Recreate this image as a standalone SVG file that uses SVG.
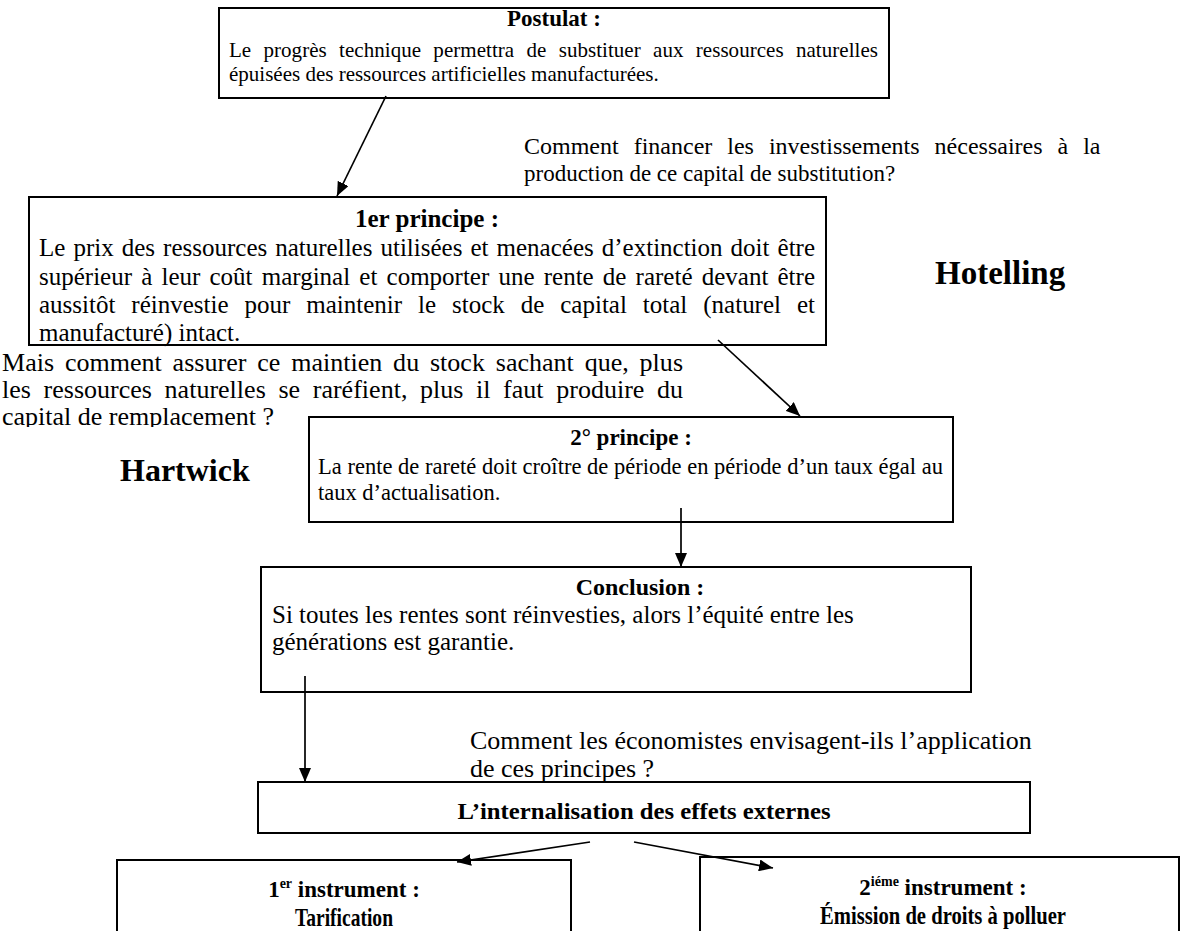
<svg xmlns="http://www.w3.org/2000/svg" width="1181" height="931" viewBox="0 0 1181 931">
<defs>
<style>
text{font-family:"Liberation Serif","Times New Roman",serif;fill:#000}
.b{font-weight:bold}
.box{fill:#fff;stroke:#000;stroke-width:2}
.ln{stroke:#000;stroke-width:1.7;fill:none}
</style>
<marker id="ah" viewBox="0 0 14 12" refX="14" refY="6" markerWidth="14" markerHeight="12" markerUnits="userSpaceOnUse" orient="auto">
<path d="M0,0 L14,6 L0,12 z" fill="#000"/>
</marker>
<clipPath id="clipMais"><rect x="0" y="400" width="320" height="27"/></clipPath>
</defs>
<rect width="1181" height="931" fill="#fff"/>

<g id="postulat">
<rect class="box" x="219" y="8" width="670" height="90"/>
<text class="b" x="554" y="26" font-size="23" text-anchor="middle">Postulat :</text>
<text x="229" y="57" font-size="21" word-spacing="7" textLength="649" lengthAdjust="spacing">Le progrès technique permettra de substituer aux ressources naturelles</text>
<text x="229" y="81" font-size="21">épuisées des ressources artificielles manufacturées.</text>
</g>

<g id="question1">
<text x="524" y="154" font-size="24" word-spacing="9">Comment financer les investissements nécessaires à la</text>
<text x="524" y="181" font-size="23">production de ce capital de substitution?</text>
</g>

<g id="principe1">
<rect class="box" x="29" y="197" width="797" height="148"/>
<text class="b" x="427" y="227" font-size="25" text-anchor="middle">1er principe :</text>
<text x="39" y="256" font-size="25" word-spacing="1.8" textLength="776" lengthAdjust="spacing">Le prix des ressources naturelles utilisées et menacées d’extinction doit être</text>
<text x="39" y="285" font-size="25" word-spacing="2.9" textLength="776" lengthAdjust="spacing">supérieur à leur coût marginal et comporter une rente de rareté devant être</text>
<text x="39" y="313" font-size="25" word-spacing="9.7" textLength="776" lengthAdjust="spacing">aussitôt réinvestie pour maintenir le stock de capital total (naturel et</text>
<text x="39" y="341" font-size="25">manufacturé) intact.</text>
</g>

<g id="hotelling">
<text class="b" x="935" y="284" font-size="33">Hotelling</text>
</g>

<g id="question2">
<text x="2" y="371" font-size="26" word-spacing="4.3" textLength="681" lengthAdjust="spacing">Mais comment assurer ce maintien du stock sachant que, plus</text>
<text x="2" y="398" font-size="26" word-spacing="6.1" textLength="681" lengthAdjust="spacing">les ressources naturelles se raréfient, plus il faut produire du</text>
<text x="2" y="425" font-size="26" clip-path="url(#clipMais)">capital de remplacement ?</text>
</g>

<g id="hartwick">
<text class="b" x="120" y="481" font-size="32">Hartwick</text>
</g>

<g id="principe2">
<rect class="box" x="309" y="417" width="644" height="105"/>
<text class="b" x="631" y="445" font-size="23" text-anchor="middle">2° principe :</text>
<text x="318" y="474" font-size="22.5" textLength="625" lengthAdjust="spacing">La rente de rareté doit croître de période en période d’un taux égal au</text>
<text x="318" y="500" font-size="22.5">taux d’actualisation.</text>
</g>

<g id="conclusion">
<rect class="box" x="261" y="567" width="710" height="125"/>
<text class="b" x="640" y="595" font-size="24" text-anchor="middle">Conclusion :</text>
<text x="272" y="623" font-size="25">Si toutes les rentes sont réinvesties, alors l’équité entre les</text>
<text x="272" y="650" font-size="25">générations est garantie.</text>
</g>

<g id="question3">
<text x="470" y="749" font-size="26">Comment les économistes envisagent-ils l’application</text>
<text x="470" y="777" font-size="26">de ces principes ?</text>
</g>

<g id="internalisation">
<rect class="box" x="258" y="782" width="772" height="51"/>
<text class="b" x="644" y="819" font-size="24" text-anchor="middle" textLength="373" lengthAdjust="spacingAndGlyphs">L’internalisation des effets externes</text>
</g>

<g id="instrument1">
<rect class="box" x="117" y="860" width="454" height="90"/>
<text class="b" x="344" y="897" font-size="23" text-anchor="middle">1<tspan dy="-9" font-size="14">er</tspan><tspan dy="9"> instrument :</tspan></text>
<text class="b" x="344" y="926" font-size="25" text-anchor="middle" textLength="98" lengthAdjust="spacingAndGlyphs">Tarification</text>
</g>

<g id="instrument2">
<rect class="box" x="700" y="857" width="479" height="90"/>
<text class="b" x="943" y="895" font-size="23" text-anchor="middle">2<tspan dy="-9" font-size="14">iéme</tspan><tspan dy="9"> instrument :</tspan></text>
<text class="b" x="943" y="924" font-size="25" text-anchor="middle" textLength="246" lengthAdjust="spacingAndGlyphs">Émission de droits à polluer</text>
</g>

<g id="connectors">
<line class="ln" x1="386" y1="96" x2="337" y2="196" marker-end="url(#ah)"/>
<line class="ln" x1="718" y1="340" x2="800" y2="416" marker-end="url(#ah)"/>
<line class="ln" x1="681" y1="508" x2="681" y2="567" marker-end="url(#ah)"/>
<line class="ln" x1="305" y1="676" x2="305" y2="782" marker-end="url(#ah)"/>
<line class="ln" x1="590" y1="842" x2="457" y2="862" marker-end="url(#ah)"/>
<line class="ln" x1="634" y1="842" x2="773" y2="868" marker-end="url(#ah)"/>
</g>
</svg>
